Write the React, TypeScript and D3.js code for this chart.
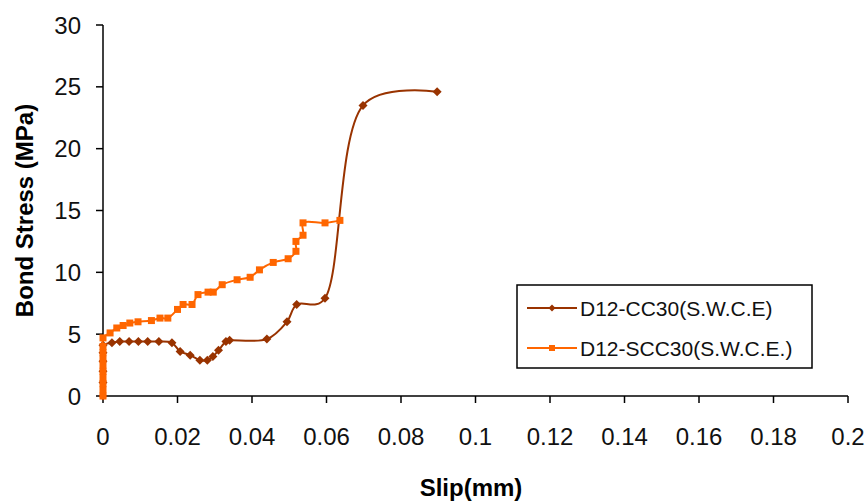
import React from "react";
import * as d3 from "d3";

const xTicks = [0, 0.02, 0.04, 0.06, 0.08, 0.1, 0.12, 0.14, 0.16, 0.18, 0.2];
const yTicks = [0, 5, 10, 15, 20, 25, 30];

const ccSlip = [0, 0, 0, 0, 0, 0, 0.0024, 0.0045, 0.007, 0.0095, 0.012, 0.015, 0.0185, 0.0207, 0.0234, 0.026, 0.028, 0.0295, 0.031, 0.033, 0.034, 0.044, 0.0494, 0.052, 0.0596, 0.0698, 0.0897];
const ccStress = [0, 1.1, 2, 2.8, 3.5, 4.1, 4.3, 4.4, 4.4, 4.4, 4.4, 4.4, 4.3, 3.6, 3.3, 2.9, 2.9, 3.2, 3.7, 4.4, 4.5, 4.6, 6.0, 7.4, 7.9, 23.5, 24.6];

const sccSlip = [0, 0, 0, 0, 0, 0, 0, 0, 0, 0, 0.0019, 0.0037, 0.0054, 0.0072, 0.0094, 0.013, 0.0153, 0.0174, 0.02, 0.0215, 0.0239, 0.0255, 0.0282, 0.0296, 0.032, 0.036, 0.0395, 0.042, 0.0457, 0.0497, 0.0518, 0.0518, 0.0537, 0.0537, 0.0596, 0.0636];
const sccStress = [0, 0.5, 1, 1.5, 2, 2.5, 3, 3.5, 4, 4.7, 5.1, 5.5, 5.7, 5.9, 6.0, 6.1, 6.3, 6.3, 7.0, 7.4, 7.4, 8.2, 8.4, 8.4, 9.0, 9.4, 9.6, 10.2, 10.8, 11.1, 11.7, 12.5, 13.0, 14.0, 14.0, 14.2];

const seriesNames = ["D12-CC30(S.W.C.E)", "D12-SCC30(S.W.C.E.)"];
const BROWN = "#993300";
const ORANGE = "#FF6600";

export default function App() {
  const W = 867, H = 501;
  const x = d3.scaleLinear().domain([0, 0.2]).range([103, 848]);
  const y = d3.scaleLinear().domain([0, 30]).range([396, 25]);
  const font = "'Liberation Sans', Arial, sans-serif";

  const cc = ccSlip.map((s, i) => [s, ccStress[i]] as [number, number]);
  const scc = sccSlip.map((s, i) => [s, sccStress[i]] as [number, number]);
  const lineCC = d3
    .line<[number, number]>()
    .x((d) => x(d[0]))
    .y((d) => y(d[1]))
    .curve(d3.curveCatmullRom.alpha(0.35));
  const lineSC = d3
    .line<[number, number]>()
    .x((d) => x(d[0]))
    .y((d) => y(d[1]))
    .curve(d3.curveCatmullRom.alpha(0.5));

  const diamond = (cx: number, cy: number, r: number) =>
    `M${cx},${cy - r}L${cx + r},${cy}L${cx},${cy + r}L${cx - r},${cy}Z`;

  const fmt = (v: number) => String(+v.toFixed(2));

  return (
    <svg width={W} height={H} style={{ position: "absolute", left: 0, top: 0, background: "#fff" }} fontFamily={font}>
      {/* axes */}
      <line x1={x(0)} x2={x(0)} y1={y(0)} y2={y(30)} stroke="#000" strokeWidth={1.5} />
      <line x1={x(0)} x2={x(0.2)} y1={y(0)} y2={y(0)} stroke="#000" strokeWidth={1.5} />
      {yTicks.map((t) => (
        <g key={"y" + t}>
          <line x1={x(0) - 7} x2={x(0)} y1={y(t)} y2={y(t)} stroke="#000" strokeWidth={1.5} />
          <text x={81} y={y(t) + 8.5} textAnchor="end" fontSize={24} fill="#111">
            {t}
          </text>
        </g>
      ))}
      {xTicks.map((t) => (
        <g key={"x" + t}>
          <line x1={x(t)} x2={x(t)} y1={y(0)} y2={y(0) + 7} stroke="#000" strokeWidth={1.5} />
          <text x={x(t)} y={445} textAnchor="middle" fontSize={24} fill="#111">
            {fmt(t)}
          </text>
        </g>
      ))}
      <text x={471} y={496} textAnchor="middle" fontSize={24} fontWeight="bold" fill="#000">
        Slip(mm)
      </text>
      <text
        transform={`translate(33,${y(15)}) rotate(-90)`}
        textAnchor="middle"
        fontSize={24}
        fontWeight="bold"
        fill="#000"
      >
        Bond Stress (MPa)
      </text>

      {/* series */}
      <path d={lineCC(cc) || ""} fill="none" stroke={BROWN} strokeWidth={2} />
      {cc.map((d, i) => (
        <path key={"cc" + i} d={diamond(x(d[0]), y(d[1]), 4.5)} fill={BROWN} />
      ))}
      <path d={lineSC(scc) || ""} fill="none" stroke={ORANGE} strokeWidth={2} />
      {scc.map((d, i) => (
        <rect key={"sc" + i} x={x(d[0]) - 3.5} y={y(d[1]) - 3.5} width={7} height={7} fill={ORANGE} />
      ))}

      {/* legend */}
      <rect x={517} y={285} width={295} height={83} fill="#fff" stroke="#000" strokeWidth={1.5} />
      <line x1={527} x2={577} y1={308} y2={308} stroke={BROWN} strokeWidth={2} />
      <path d={diamond(552, 308, 3.5)} fill={BROWN} />
      <text x={580} y={316} fontSize={21} fill="#111">
        {seriesNames[0]}
      </text>
      <line x1={527} x2={577} y1={348} y2={348} stroke={ORANGE} strokeWidth={2} />
      <rect x={549} y={345} width={6} height={6} fill={ORANGE} />
      <text x={580} y={356} fontSize={21} fill="#111">
        {seriesNames[1]}
      </text>
    </svg>
  );
}
